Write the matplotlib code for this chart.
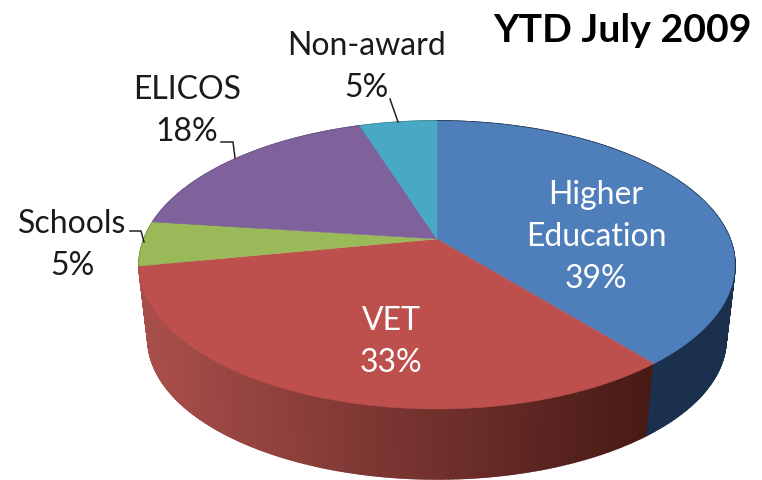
import numpy as np
import matplotlib
matplotlib.use("Agg")
import matplotlib.pyplot as plt

categories = ["Higher\nEducation", "VET", "Schools", "ELICOS", "Non-award"]
shares = [39, 33, 5, 18, 5]
top_colors = ["#4F7FBA", "#BD4F4C", "#9ABA59", "#7F619C", "#48A9C4"]
title = "YTD July 2009"

# side shading, left colour then right colour
side_colors = [
    [(27, 48, 76), (27, 48, 76)],
    [(168, 78, 74), (72, 26, 22)],
    [(120, 145, 70), (120, 145, 70)],
    [(100, 78, 125), (100, 78, 125)],
    [(58, 130, 150), (58, 130, 150)],
]

plt.rcParams["font.family"] = ["Lato", "DejaVu Sans"]


def proj(theta):
    # tilted circle with perspective, theta clockwise from the top
    x = np.sin(theta)
    y = np.cos(theta)
    d = 1 + 0.1806 * y
    return 437 + 293 * x / d, 240 - 139.3 * y / d


def proj_low(theta):
    x, y = proj(theta)
    return 437 + 0.97 * (x - 437), 240 + 0.97 * (y - 240) + 75


def mix(c, x):
    t = np.clip((x - 150) / (648 - 150), 0, 1)
    rgb = [(c[0][i] + (c[1][i] - c[0][i]) * t) / 255 for i in range(3)]
    return rgb


fig = plt.figure(figsize=(7.62, 4.81), dpi=100)
ax = fig.add_axes([0, 0, 1, 1])
ax.set_xlim(0, 762)
ax.set_ylim(481, 0)
ax.axis("off")

edges = np.cumsum([0] + shares) / sum(shares) * 2 * np.pi

# sides first, back to front so red covers the hidden green side
for i in reversed(range(len(shares))):
    t = np.linspace(edges[i], edges[i + 1], int(shares[i] * 8) + 2)
    for a, b in zip(t[:-1], t[1:]):
        x1, y1 = proj(a)
        x2, y2 = proj(b)
        x3, y3 = proj_low(b)
        x4, y4 = proj_low(a)
        col = mix(side_colors[i], (x1 + x2) / 2)
        ax.fill([x1, x2, x3, x4], [y1, y2, y3, y4], color=col, lw=1.2, zorder=2)

for i in range(len(shares)):
    t = np.linspace(edges[i], edges[i + 1], 200)
    x, y = proj(t)
    ax.fill(np.r_[437, x], np.r_[240, y], color=top_colors[i], lw=0.3, zorder=3)

# labels
fs = 23
ls = 1.52
ax.text(596, 237, categories[0] + f"\n{shares[0]}%", color="white", fontsize=fs,
        ha="center", va="center", linespacing=ls, zorder=4)
ax.text(391, 342, categories[1] + f"\n{shares[1]}%", color="white", fontsize=fs,
        ha="center", va="center", linespacing=ls, zorder=4)
ax.text(72, 245, categories[2] + f"\n{shares[2]}%", color="#1a1a1a", fontsize=fs,
        ha="center", va="center", linespacing=ls, zorder=4)
ax.text(187, 111, categories[3] + f"\n{shares[3]}%", color="#1a1a1a", fontsize=fs,
        ha="center", va="center", linespacing=ls, zorder=4)
ax.text(366, 67, categories[4] + f"\n{shares[4]}%", color="#1a1a1a", fontsize=fs,
        ha="center", va="center", linespacing=ls, zorder=4)

ax.text(622, 30, title, color="black", fontsize=28.3, fontweight="bold",
        ha="center", va="center", zorder=4)

# leader lines
ax.plot([390, 398], [100, 123], color="#222222", lw=1.1, zorder=4)
ax.plot([221, 233, 235], [143, 143, 159], color="#222222", lw=1.1, zorder=4)
ax.plot([130, 141, 144], [232, 232, 243], color="#222222", lw=1.1, zorder=4)

fig.savefig("out.png", dpi=100)
